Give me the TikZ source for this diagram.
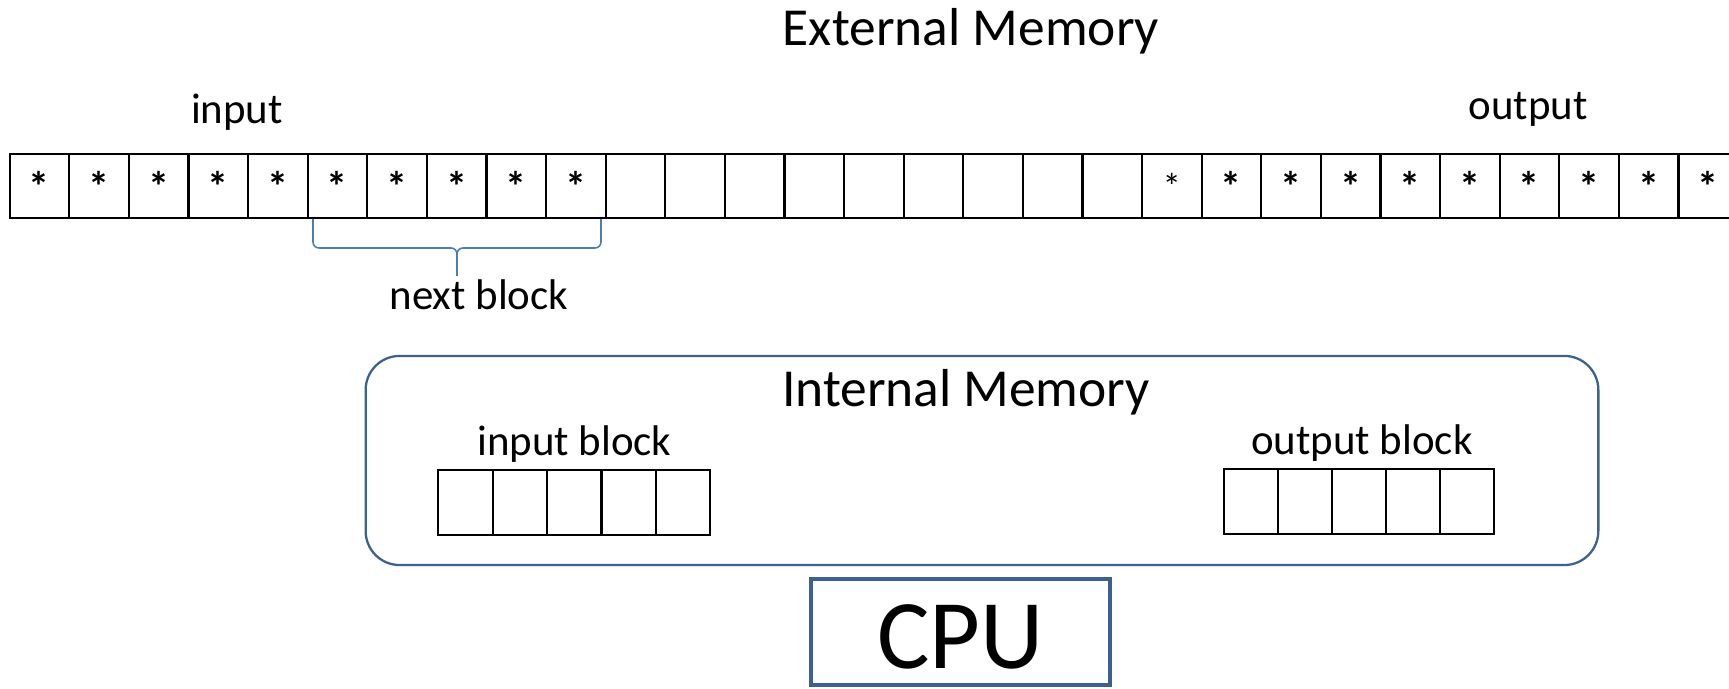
\documentclass[tikz,border=0pt]{standalone}
\usepackage{fontspec}
\setmainfont{Carlito}
\usepackage{tikz}
\usetikzlibrary{positioning}

\definecolor{boxblue}{HTML}{3C6190}
\definecolor{braceblue}{HTML}{4A7EBB}

\begin{document}
\begin{tikzpicture}[x=0.01cm,y=-0.01cm,
                    cell/.style={draw,line width=0.6pt,minimum width=0.596cm,minimum height=0.64cm,inner sep=0pt},
                    blk cell/.style={draw,line width=0.6pt,minimum width=0.544cm,minimum height=0.65cm,inner sep=0pt},
                    star/.style={font=\bfseries\fontsize{12}{12}\selectfont,inner sep=0pt},
                    small star/.style={font=\fontsize{10.5}{11}\selectfont,inner sep=0pt},
                    lbl/.style={font=\fontsize{12.2}{14}\selectfont,inner sep=0pt},
                    title/.style={font=\fontsize{15.2}{18}\selectfont,inner sep=0pt},
                    mem box/.style={draw=boxblue,line width=0.65pt,rounded corners=0.34cm,minimum width=12.32cm,minimum height=2.09cm},
                    cpu box/.style={draw=boxblue,line width=1.15pt,minimum width=2.99cm,minimum height=1.06cm,inner sep=0pt,
                                    text height=0.73cm,text depth=0pt,font=\fontsize{28}{30}\selectfont},
                    brace line/.style={draw=braceblue,line width=0.45pt,rounded corners=0.06cm}]

       \useasboundingbox (0,0) rectangle (1729,689);

       \node[title, anchor=base] (ext) at (971,46) {External Memory};
       \node[lbl, anchor=base] (inlbl) at (237,124) {input};
       \node[lbl, anchor=base] (outlbl) at (1528,120) {output};

       \foreach \i in {1,...,29}
         \node[cell] (m\i) at ({9.7+59.6*(\i-0.5)},186) {};
       \foreach \i in {1,...,10,21,22,...,29}
         \node[star] at (m\i) {*};
       \node[small star] at (m20) {*};

       \coordinate (bl) at (313,219);
       \coordinate (br) at (601,219);
       \coordinate (bm) at (457,248);
       \coordinate (bt) at (457,276);
       \path[brace line] (bl) |- (bm) -- (bt);
       \path[brace line] (br) |- (bm) -- (bt);
       \node[lbl, anchor=base] (next) at (479,310) {next block};

       \node[mem box] (intmem) at (982,460.5) {};
       \node[title, anchor=base] (intlbl) at (966,407) {Internal Memory};

       \foreach \i in {1,...,5}
         \node[blk cell] (ib\i) at ({438.3+54.4*(\i-0.5)},502.5) {};
       \foreach \i in {1,...,5}
         \node[blk cell] (ob\i) at ({1224+54*(\i-0.5)},501.5) {};
       \node[lbl, above=0.06cm of ib3] (iblbl) {input block};
       \node[lbl, above=0.06cm of ob3, xshift=0.03cm] (oblbl) {output block};

       \node[cpu box] (cpu) at (960.5,632) {CPU};
     \end{tikzpicture}
\end{document}
